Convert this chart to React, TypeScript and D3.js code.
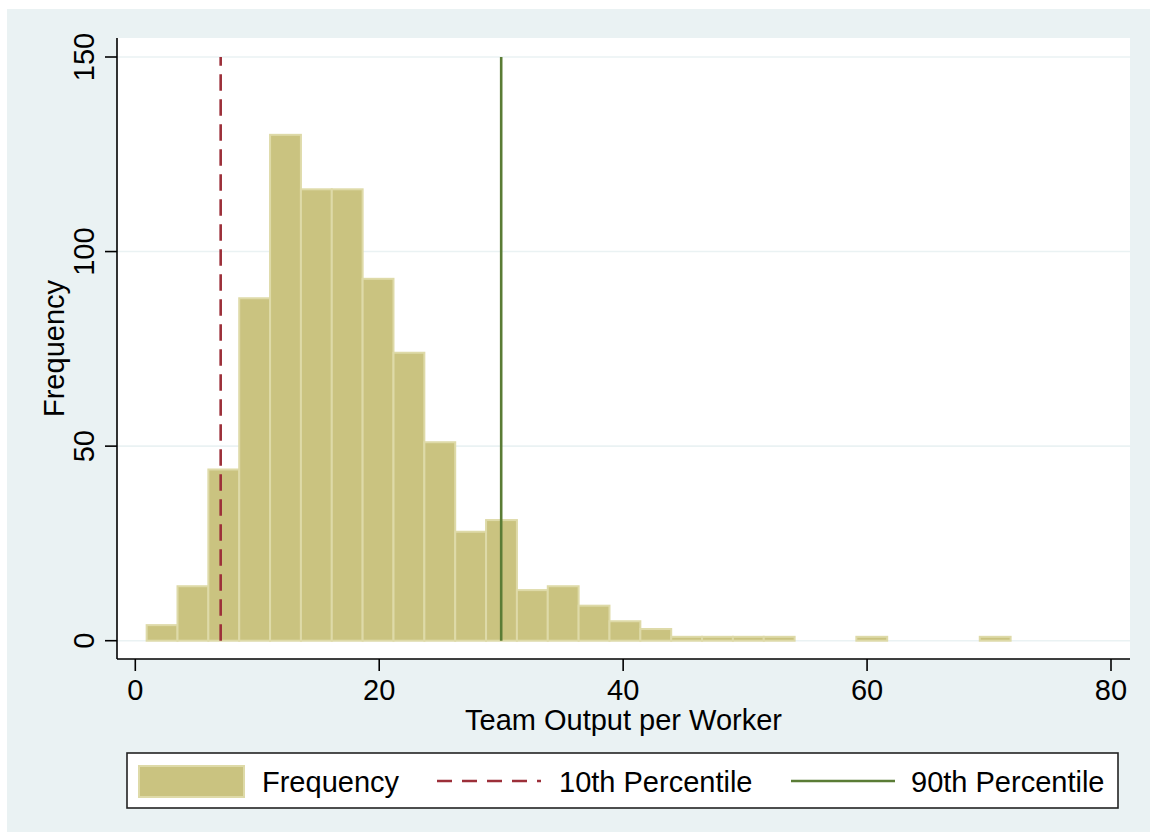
import React from "react";
import * as d3 from "d3";

// Histogram of team output per worker (28 equal-width bins)
const binStart = 0.93;
const binWidth = 2.53;
const frequencies = [4, 14, 44, 88, 130, 116, 116, 93, 74, 51, 28, 31, 13, 14, 9, 5, 3, 1, 1, 1, 1, 0, 0, 1, 0, 0, 0, 1];

const xTicks = [0, 20, 40, 60, 80];
const yTicks = [0, 50, 100, 150];

const p10 = 7;
const p90 = 30;

const legendLabels = ["Frequency", "10th Percentile", "90th Percentile"];

const W = 1157;
const H = 839;
const FONT = "'Liberation Sans', Arial, Helvetica, sans-serif";
const FS = 29;
const BG = "#eaf2f3";
const BAR_FILL = "#cac380";
const BAR_EDGE = "#dedaa8";
const RED = "#9c2f39";
const GREEN = "#5a7c35";

export default function App() {
  const plot = { left: 117, right: 1130, top: 38, bottom: 659 };
  const x = d3.scaleLinear().domain([0, 80]).range([135.3, 1111]);
  const y = d3.scaleLinear().domain([0, 150]).range([640.7, 57]);

  const bins = frequencies.map((f, i) => ({
    x0: binStart + i * binWidth,
    x1: binStart + (i + 1) * binWidth,
    f,
  }));

  const vline = d3.line<[number, number]>()
    .x((d) => x(d[0]))
    .y((d) => y(d[1]));

  return (
    <svg
      width={W}
      height={H}
      style={{ position: "absolute", left: 0, top: 0, fontFamily: FONT }}
    >
      <rect x={0} y={0} width={W} height={H} fill="#ffffff" />
      <rect x={7} y={9} width={1143} height={823} fill={BG} />
      <rect
        x={plot.left}
        y={plot.top}
        width={plot.right - plot.left}
        height={plot.bottom - plot.top}
        fill="#ffffff"
      />

      {/* horizontal grid */}
      {yTicks.map((t) => (
        <line
          key={`g${t}`}
          x1={plot.left}
          x2={plot.right}
          y1={y(t)}
          y2={y(t)}
          stroke={BG}
          strokeWidth={1.6}
        />
      ))}

      {/* bars */}
      {bins
        .filter((b) => b.f > 0)
        .map((b, i) => (
          <rect
            key={`b${i}`}
            x={x(b.x0)}
            y={y(b.f)}
            width={x(b.x1) - x(b.x0)}
            height={y(0) - y(b.f)}
            fill={BAR_FILL}
            stroke={BAR_EDGE}
            strokeWidth={2}
          />
        ))}

      {/* percentile markers */}
      <path
        d={vline([[p10, 0], [p10, 150]]) || ""}
        stroke={RED}
        strokeWidth={2.6}
        strokeDasharray="16.5,8.5"
        fill="none"
      />
      <path
        d={vline([[p90, 0], [p90, 150]]) || ""}
        stroke={GREEN}
        strokeWidth={2.6}
        fill="none"
      />

      {/* y axis */}
      <line x1={plot.left} x2={plot.left} y1={plot.top} y2={plot.bottom} stroke="#000" strokeWidth={1.6} />
      {yTicks.map((t) => (
        <g key={`yt${t}`}>
          <line x1={plot.left - 12} x2={plot.left} y1={y(t)} y2={y(t)} stroke="#000" strokeWidth={1.6} />
          <text
            transform={`translate(93.5,${y(t)}) rotate(-90)`}
            textAnchor="middle"
            fontSize={FS}
            fill="#000"
          >
            {t}
          </text>
        </g>
      ))}
      <text
        transform={`translate(64,${(plot.top + plot.bottom) / 2}) rotate(-90)`}
        textAnchor="middle"
        fontSize={FS}
        fill="#000"
      >
        Frequency
      </text>

      {/* x axis */}
      <line x1={plot.left} x2={plot.right} y1={plot.bottom} y2={plot.bottom} stroke="#000" strokeWidth={1.6} />
      {xTicks.map((t) => (
        <g key={`xt${t}`}>
          <line x1={x(t)} x2={x(t)} y1={plot.bottom} y2={plot.bottom + 12} stroke="#000" strokeWidth={1.6} />
          <text x={x(t)} y={700} textAnchor="middle" fontSize={FS} fill="#000">
            {t}
          </text>
        </g>
      ))}
      <text
        x={(plot.left + plot.right) / 2}
        y={730}
        textAnchor="middle"
        fontSize={FS}
        fill="#000"
      >
        Team Output per Worker
      </text>

      {/* legend */}
      <rect x={127} y={753} width={991} height={55} fill="#ffffff" stroke="#222" strokeWidth={1.6} />
      <rect x={139} y={766} width={105} height={31} fill={BAR_FILL} stroke={BAR_EDGE} strokeWidth={2} />
      <text x={262} y={792} fontSize={FS} fill="#000">{legendLabels[0]}</text>
      <line x1={437} x2={541} y1={781} y2={781} stroke={RED} strokeWidth={2.6} strokeDasharray="15,10" />
      <text x={559} y={792} fontSize={FS} fill="#000">{legendLabels[1]}</text>
      <line x1={791} x2={895} y1={781} y2={781} stroke={GREEN} strokeWidth={2.6} />
      <text x={911} y={792} fontSize={FS} fill="#000">{legendLabels[2]}</text>
    </svg>
  );
}
